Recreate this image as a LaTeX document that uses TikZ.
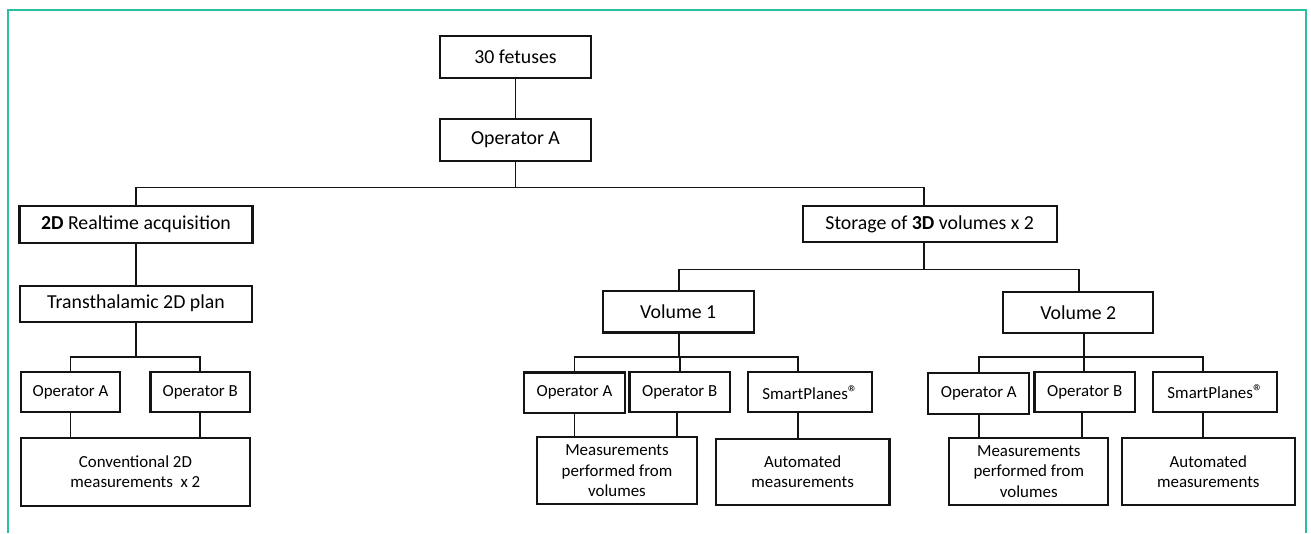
\documentclass[tikz,border=0pt]{standalone}
\usepackage{fontspec}
\setmainfont{Carlito}
\usetikzlibrary{calc}
\definecolor{frameteal}{RGB}{40,192,160}
\definecolor{ink}{RGB}{20,20,20}
\newcommand{\regmark}{{\fontsize{20}{20}\selectfont ®}}
\tikzset{
  box/.style={draw=ink, line width=2.3pt, rectangle, inner sep=0pt, outer sep=0pt, align=center, text=black},
  bigbox/.style={box, font=\fontsize{19.8}{23}\selectfont},
  smallbox/.style={box, font=\fontsize{16.9}{20.3}\selectfont},
  conn/.style={draw=ink, line width=1.7pt},
  frame/.style={draw=frameteal, line width=2pt}
}
\begin{document}
\begin{tikzpicture}[x=1pt,y=-1pt]
\useasboundingbox (0,0) rectangle (1311,533);
\fill[white] (0,0) rectangle (1311,533);
% frame
\draw[frame] (8.3,533) -- (8.3,10) -- (1306,10) -- (1306,533);

% top
\node[bigbox, minimum width=151pt, minimum height=42pt] (fet) at (515.5,57) {30 fetuses};
\node[bigbox, minimum width=151pt, minimum height=42pt] (opA0) at (515.5,140) {Operator A};

% level 2
\node[bigbox, minimum width=233pt, minimum height=37pt] (d2) at (136,224.4) {\textbf{2D} Realtime acquisition};
\node[bigbox, minimum width=254pt, minimum height=36pt] (st) at (929.7,224) {Storage of \textbf{3D} volumes x 2};

% left branch
\node[bigbox, minimum width=232pt, minimum height=36pt] (tp) at (136,303.7) {Transthalamic 2D plan};
\node[smallbox, minimum width=99.6pt, minimum height=40pt] (oa1) at (70.5,392.3) {Operator A};
\node[smallbox, minimum width=99.7pt, minimum height=40pt] (ob1) at (200.2,392.3) {Operator B};
\node[smallbox, minimum width=229.3pt, minimum height=67.4pt] (conv) at (135.4,472) {Conventional 2D\\measurements~ x 2};

% volume 1
\node[bigbox, minimum width=151pt, minimum height=41.3pt] (v1) at (678.2,311.7) {Volume 1};
\node[smallbox, minimum width=101pt, minimum height=40.7pt] (oa2) at (574.5,392.7) {Operator A};
\node[smallbox, minimum width=100.7pt, minimum height=40pt] (ob2) at (679.7,392.3) {Operator B};
\node[smallbox, minimum width=124pt, minimum height=40pt] (sp2) at (810.3,392.2) {SmartPlanes\regmark};
\node[smallbox, minimum width=159.4pt, minimum height=67pt] (meas2) at (617,470.8) {Measurements\\performed from\\volumes};
\node[smallbox, minimum width=173.3pt, minimum height=66.6pt] (auto2) at (802.7,472) {Automated\\measurements};

% volume 2
\node[bigbox, minimum width=150pt, minimum height=41.6pt] (v2) at (1078.3,312.5) {Volume 2};
\node[smallbox, minimum width=101pt, minimum height=41.3pt] (oa3) at (978.8,393.3) {Operator A};
\node[smallbox, minimum width=100.7pt, minimum height=40pt] (ob3) at (1084.7,392) {Operator B};
\node[smallbox, minimum width=124pt, minimum height=40pt] (sp3) at (1215.3,392) {SmartPlanes\regmark};
\node[smallbox, minimum width=159pt, minimum height=67pt] (meas3) at (1028.8,471.5) {Measurements\\performed from\\volumes};
\node[smallbox, minimum width=173.3pt, minimum height=67pt] (auto3) at (1208.3,471.5) {Automated\\measurements};

% bus coordinates
\coordinate (bus0) at (924.3,187.5);
\coordinate (bus1) at (136,356.7);
\coordinate (bus2) at (924.3,269.5);
\coordinate (bus3) at (679.3,357);
\coordinate (bus4) at (1084.3,357.3);

% connectors
\draw[conn] (fet.south) -- (opA0.north);
\draw[conn] (opA0.south) -- (opA0.south |- bus0);
\draw[conn] (d2.north) |- (bus0) -- (bus0 |- st.north);
\draw[conn] (d2.south) -- (tp.north);
\draw[conn] (tp.south) -- (tp.south |- bus1);
\draw[conn] (oa1.north) |- (bus1) -| (ob1.north);
\draw[conn] (oa1.south) -- (oa1.south |- conv.north);
\draw[conn] (ob1.south) -- (ob1.south |- conv.north);

\draw[conn] (bus2 |- st.south) -- (bus2);
\draw[conn] (v1.north -| bus3) |- (bus2) -| ([xshift=0.7pt]v2.north);
\draw[conn] (v1.south -| bus3) -- (bus3);
\draw[conn] (oa2.north) |- (bus3) -| ([xshift=-12.6pt]sp2.north);
\draw[conn] (ob2.north) -- (ob2.north |- bus3);
\draw[conn] (oa2.south) -- (oa2.south |- meas2.north);
\draw[conn] ([xshift=-3pt]ob2.south) -- ([xshift=-3pt]ob2.south |- meas2.north);
\draw[conn] ([xshift=-12.6pt]sp2.south) -- ([xshift=-12.6pt]sp2.south |- auto2.north);

\draw[conn] (v2.south -| bus4) -- (bus4);
\draw[conn] (oa3.north) |- (bus4) -| ([xshift=-12pt]sp3.north);
\draw[conn] (ob3.north -| bus4) -- (bus4);
\draw[conn] (oa3.south) -- (oa3.south |- meas3.north);
\draw[conn] ([xshift=-3pt]ob3.south) -- ([xshift=-3pt]ob3.south |- meas3.north);
\draw[conn] ([xshift=-12pt]sp3.south) -- ([xshift=-12pt]sp3.south |- auto3.north);
\end{tikzpicture}
\end{document}
